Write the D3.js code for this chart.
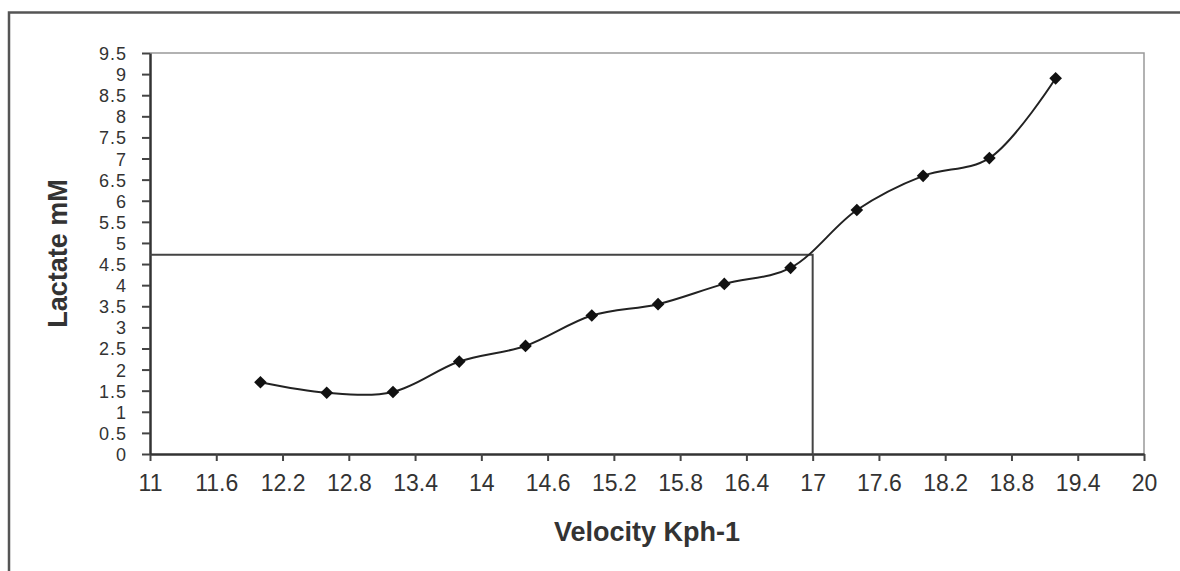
<!DOCTYPE html>
<html>
<head>
<meta charset="utf-8">
<script src="https://cdn.jsdelivr.net/npm/d3@7"></script>
<style>
  body { margin: 0; background: #fff; }
  svg { display: block; }
</style>
</head>
<body>
<script>
// lactate curve values
var velocity = [12.0, 12.6, 13.2, 13.8, 14.4, 15.0, 15.6, 16.2, 16.8, 17.4, 18.0, 18.6, 19.2];
var lactate = [1.7, 1.45, 1.47, 2.19, 2.56, 3.28, 3.55, 4.03, 4.41, 5.78, 6.59, 7.01, 8.9];

var xTicks = [11, 11.6, 12.2, 12.8, 13.4, 14, 14.6, 15.2, 15.8, 16.4, 17, 17.6, 18.2, 18.8, 19.4, 20];
var yTicks = [0, 0.5, 1, 1.5, 2, 2.5, 3, 3.5, 4, 4.5, 5, 5.5, 6, 6.5, 7, 7.5, 8, 8.5, 9, 9.5];

// threshold marker (velocity, lactate)
var threshold = [17, 4.72];

var width = 1180, height = 571;
var margin = {top: 53, right: 36, bottom: 117, left: 150};

var svg = d3.select('body').append('svg')
  .attr('width', width)
  .attr('height', height);

// outer frame (only top and left edges are visible in the crop)
svg.append('path')
  .attr('d', 'M9,' + height + 'V12.5H' + width)
  .attr('fill', 'none')
  .attr('stroke', '#555')
  .attr('stroke-width', 2.5);

var x = d3.scaleLinear().domain([11, 20]).range([margin.left, width - margin.right]);
var y = d3.scaleLinear().domain([0, 9.5]).range([height - margin.bottom, margin.top]);

var fmt = function(d) { return String(+d.toFixed(1)); };
var font = '"Liberation Sans", Arial, sans-serif';

// plot border top/right
svg.append('path')
  .attr('d', 'M' + x(11) + ',' + y(9.5) + 'H' + x(20) + 'V' + y(0))
  .attr('fill', 'none')
  .attr('stroke', '#999')
  .attr('stroke-width', 1.5);

var xAxis = svg.append('g')
  .attr('transform', 'translate(0,' + y(0) + ')')
  .call(d3.axisBottom(x).tickValues(xTicks).tickFormat(fmt).tickSize(7).tickSizeOuter(0).tickPadding(14));

var yAxis = svg.append('g')
  .attr('transform', 'translate(' + x(11) + ',0)')
  .call(d3.axisLeft(y).tickValues(yTicks).tickFormat(fmt).tickSize(8).tickSizeOuter(0).tickPadding(15));

[xAxis, yAxis].forEach(function(g) {
  g.select('.domain').attr('stroke', '#333').attr('stroke-width', 2.5);
  g.selectAll('.tick line').attr('stroke', '#444').attr('stroke-width', 2);
  g.selectAll('.tick text')
    .attr('fill', '#333')
    .style('font-family', font);
});
xAxis.selectAll('.tick text').style('font-size', '23px');
yAxis.selectAll('.tick text')
  .attr('dy', '0.36em')
  .style('font-size', '18px')
  .style('letter-spacing', '1px');

// threshold lines
svg.append('path')
  .attr('d', 'M' + x(11) + ',' + y(threshold[1]) + 'H' + x(threshold[0]) + 'V' + y(0))
  .attr('fill', 'none')
  .attr('stroke', '#444')
  .attr('stroke-width', 2);

var points = velocity.map(function(v, i) { return [v, lactate[i]]; });

var line = d3.line()
  .x(function(d) { return x(d[0]); })
  .y(function(d) { return y(d[1]); })
  .curve(d3.curveCatmullRom);

svg.append('path')
  .datum(points)
  .attr('d', line)
  .attr('fill', 'none')
  .attr('stroke', '#222')
  .attr('stroke-width', 2);

svg.selectAll('.marker')
  .data(points)
  .enter()
  .append('path')
  .attr('class', 'marker')
  .attr('d', d3.symbol().type(d3.symbolSquare).size(80))
  .attr('transform', function(d) { return 'translate(' + x(d[0]) + ',' + y(d[1]) + ') rotate(45)'; })
  .attr('fill', '#111');

// axis titles
svg.append('text')
  .attr('x', (x(11) + x(20)) / 2)
  .attr('y', 541)
  .attr('text-anchor', 'middle')
  .style('font-family', font)
  .style('font-size', '27px')
  .style('font-weight', 'bold')
  .attr('fill', '#333')
  .text('Velocity Kph-1');

svg.append('text')
  .attr('transform', 'translate(67,' + (y(0) + y(9.5)) / 2 + ') rotate(-90)')
  .attr('text-anchor', 'middle')
  .style('font-family', font)
  .style('font-size', '27px')
  .style('font-weight', 'bold')
  .attr('fill', '#333')
  .text('Lactate mM');
</script>
</body>
</html>
